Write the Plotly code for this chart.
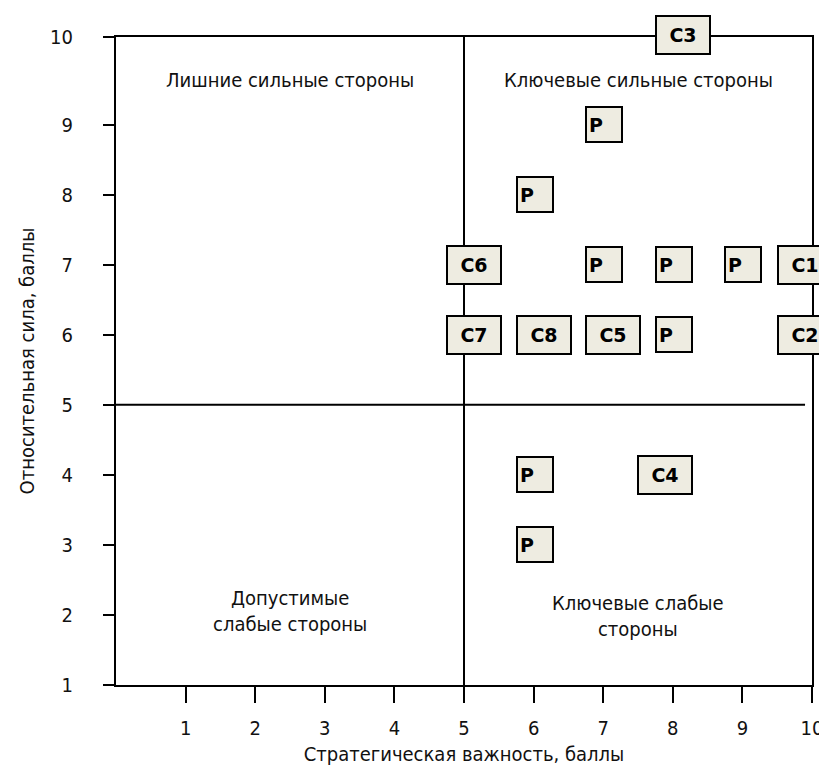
import plotly.graph_objects as go

# ---- data ----
labels = ["P", "P", "C6", "P", "P", "P", "C1", "C7", "C8", "C5", "P", "C2", "C4", "P", "P", "C3"]
importance = [7, 6, 5, 7, 8, 9, 9.75, 5, 6, 7, 8, 9.75, 7.75, 6, 6, 8]
strength = [9, 8, 7, 7, 7, 7, 7, 6, 6, 6, 6, 6, 4, 4, 3, 10]

x_ticks = [1, 2, 3, 4, 5, 6, 7, 8, 9, 10]
y_ticks = [1, 2, 3, 4, 5, 6, 7, 8, 9]
y_tick_labels = ["1", "2", "3", "4", "5", "6", "7", "8", "9"]

x_title = "Стратегическая важность, баллы"
y_title = "Относительная сила, баллы"
quadrants = ["Лишние сильные стороны", "Ключевые сильные стороны",
             "Допустимые<br>слабые стороны", "Ключевые слабые<br>стороны"]

Y_TOP = 10.25
FONT = "DejaVu Sans Condensed, Noto Sans, sans-serif"
BOX_FONT = "DejaVu Sans, sans-serif"
TXT = "#111111"
FS = 20

fig = go.Figure()
fig.add_trace(go.Scatter(x=importance, y=strength, mode="markers",
                         marker=dict(size=1, opacity=0), hoverinfo="skip",
                         showlegend=False))

for lab, xv, yv in zip(labels, importance, strength):
    is_p = lab == "P"
    top = yv >= 10
    fig.add_annotation(
        x=xv, y=yv, xref="x", yref="y", text="<b>%s</b>" % lab,
        showarrow=False, xanchor="left", xshift=-18,
        yanchor="bottom" if top else "middle",
        width=30 if is_p else 48, height=29 if is_p else 32,
        borderpad=2, borderwidth=2, bordercolor="#000000",
        bgcolor="#EEECE1", align="left" if is_p else "center",
        font=dict(family=BOX_FONT, size=19, color="#000000"),
    )

# quadrant captions
qpos = [(2.5, 9.64), (7.5, 9.64), (2.5, 2.06), (7.5, 1.99)]
for t, (qx, qy) in zip(quadrants, qpos):
    fig.add_annotation(x=qx, y=qy, xref="x", yref="y", text=t, showarrow=False,
                       align="center", font=dict(family=FONT, size=FS, color=TXT))

# dividing lines
fig.add_shape(type="line", x0=5, x1=5, y0=1, y1=Y_TOP, xref="x", yref="y",
              line=dict(color="#000000", width=2))
fig.add_shape(type="line", x0=0, x1=9.9, y0=5, y1=5, xref="x", yref="y",
              line=dict(color="#000000", width=2))

fig.update_layout(
    width=827, height=766,
    margin=dict(l=108, r=14, t=29, b=86),
    paper_bgcolor="#ffffff", plot_bgcolor="#ffffff",
    showlegend=False,
    font=dict(family=FONT, size=FS, color=TXT),
)
fig.update_xaxes(
    range=[0, 10], tickvals=x_ticks, ticks="outside", ticklen=16, tickwidth=2,
    tickcolor="#000000", showline=True, linewidth=2, linecolor="#000000",
    mirror=True, showgrid=False, zeroline=False, ticklabelstandoff=8,
    tickfont=dict(family=FONT, size=FS, color=TXT),
    title=dict(text=x_title, font=dict(family=FONT, size=FS, color=TXT), standoff=8),
)
fig.update_yaxes(
    range=[1, Y_TOP], tickvals=y_ticks + [Y_TOP], ticktext=y_tick_labels + ["10"],
    ticks="outside", ticklen=11, tickwidth=2, tickcolor="#000000",
    showline=True, linewidth=2, linecolor="#000000", mirror=True,
    showgrid=False, zeroline=False, ticklabelstandoff=26,
    tickfont=dict(family=FONT, size=FS, color=TXT),
    title=dict(text=y_title, font=dict(family=FONT, size=FS, color=TXT), standoff=10),
)

fig.write_html("out.html")
